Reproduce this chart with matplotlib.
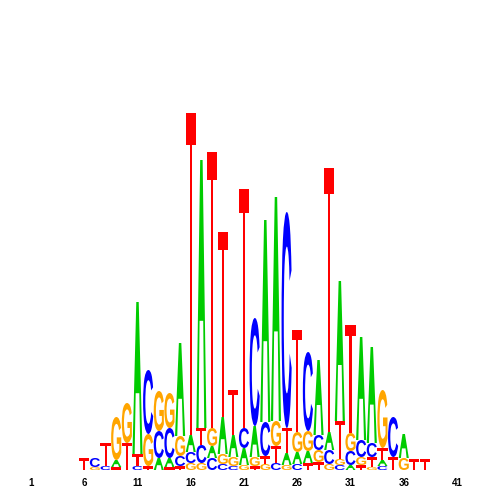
import matplotlib
matplotlib.use("Agg")
import matplotlib.pyplot as plt
from matplotlib.textpath import TextPath
from matplotlib.patches import PathPatch
from matplotlib.path import Path
from matplotlib.font_manager import FontProperties
from matplotlib.transforms import Affine2D

# sequence logo: one column per position, letters listed bottom -> top
first_pos = 6
columns = [
    "T", "GC", "CT", "TAG", "TG", "CTA", "TGC", "ACG", "TACG", "TCGA",
    "GCAT", "GCTA", "CAGT", "CGAT", "CGAT", "GACT", "TGAC", "GTCA",
    "CTGA", "GATC", "CAGT", "TAGC", "TGCA", "GCAT", "CGTA", "ACGT",
    "TGCA", "GTCA", "CATG", "TC", "GA", "T", "T",
]
heights = [
    [0.12], [0.03, 0.09], [0.04, 0.23], [0.03, 0.07, 0.43], [0.27, 0.40],
    [0.04, 0.12, 1.52], [0.04, 0.32, 0.64], [0.12, 0.27, 0.40],
    [0.03, 0.09, 0.30, 0.35], [0.04, 0.10, 0.20, 0.93],
    [0.07, 0.11, 0.17, 3.22], [0.07, 0.18, 0.17, 2.68],
    [0.12, 0.12, 0.18, 2.76], [0.06, 0.10, 0.37, 1.85],
    [0.04, 0.09, 0.22, 0.45], [0.05, 0.17, 0.20, 2.39],
    [0.04, 0.09, 0.31, 1.08], [0.06, 0.08, 0.34, 2.02],
    [0.07, 0.17, 0.25, 2.24], [0.05, 0.12, 0.25, 2.16],
    [0.06, 0.12, 0.20, 1.02], [0.07, 0.12, 0.20, 0.79],
    [0.08, 0.12, 0.15, 0.75], [0.06, 0.14, 0.18, 2.64],
    [0.05, 0.06, 0.38, 1.40], [0.05, 0.14, 0.18, 1.08],
    [0.05, 0.08, 0.17, 1.03], [0.03, 0.10, 0.14, 0.96],
    [0.04, 0.06, 0.12, 0.58], [0.13, 0.40], [0.12, 0.24], [0.11], [0.11],
]
tick_positions = [1, 6, 11, 16, 21, 26, 31, 36, 41]

colors = {"A": "#00cc00", "C": "#0000ff", "G": "#ffa500", "T": "#ff0000"}
font = FontProperties(family="Liberation Sans", weight="bold")


def unit_path(ch, h):
    # letter outline in a unit box
    if ch == "T":
        bar = max(0.1, 0.03 / h)
        pts = [(0, 1), (1, 1), (1, 1 - bar), (0.6, 1 - bar), (0.6, 0),
               (0.4, 0), (0.4, 1 - bar), (0, 1 - bar), (0, 1)]
        return Path(pts, [Path.MOVETO] + [Path.LINETO] * 7 + [Path.CLOSEPOLY])
    if ch == "A":
        outer = [(0, 0), (0.38, 1), (0.62, 1), (1, 0), (0.78, 0),
                 (0.68, 0.4), (0.32, 0.4), (0.22, 0), (0, 0)]
        hole = [(0.36, 0.5), (0.5, 0.86), (0.64, 0.5), (0.36, 0.5)]
        codes = ([Path.MOVETO] + [Path.LINETO] * 7 + [Path.CLOSEPOLY]
                 + [Path.MOVETO] + [Path.LINETO] * 2 + [Path.CLOSEPOLY])
        return Path(outer + hole, codes)
    tp = TextPath((0, 0), ch, size=1, prop=font)
    bb = tp.get_extents()
    tr = Affine2D().translate(-bb.x0, -bb.y0).scale(1 / bb.width, 1 / bb.height)
    return tr.transform_path(tp)


def draw_letter(ax, ch, x, y0, h, width=0.95):
    tr = Affine2D().scale(width, h).translate(x - width / 2, y0)
    ax.add_patch(PathPatch(tr.transform_path(unit_path(ch, h)),
                           facecolor=colors[ch], edgecolor="none"))


fig = plt.figure(figsize=(5, 5), dpi=100)
ax = fig.add_axes([0, 0.06, 1, 0.94])

for i, (letters, hs) in enumerate(zip(columns, heights)):
    pos = first_pos + i
    y = 0.0
    for ch, h in zip(letters, hs):
        draw_letter(ax, ch, pos, y, h)
        y += h

ax.set_xlim(1 - 31 / 10.65, 1 + 469 / 10.65)
ax.set_ylim(0, 4.70)
ax.set_xticks(tick_positions)
ax.set_xticklabels([str(t) for t in tick_positions], fontsize=7,
                   fontweight="bold", family="Liberation Sans")
ax.tick_params(axis="x", length=0, pad=5.5)
ax.set_yticks([])
for s in ax.spines.values():
    s.set_visible(False)

fig.savefig("out.png", dpi=100)
